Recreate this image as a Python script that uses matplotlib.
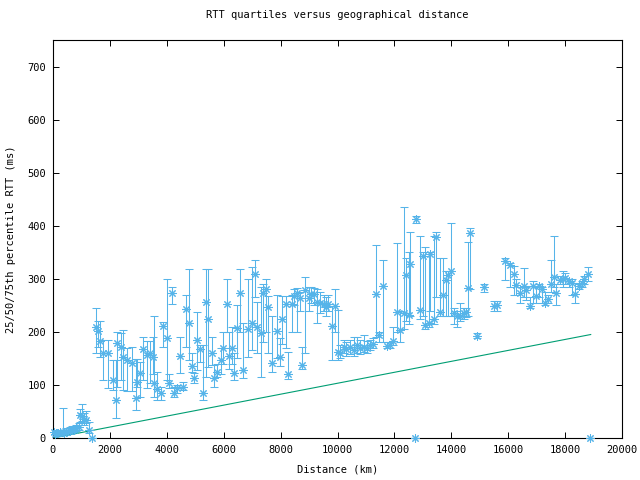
import matplotlib
matplotlib.use("Agg")
import matplotlib.pyplot as plt
import numpy as np

# distance (km), median RTT, 25th percentile, 75th percentile (ms)
dist = [30, 80, 120, 180, 250, 363, 380, 450, 520, 600, 680, 750, 820, 900, 960, 1009, 1080, 1161, 1277, 1383,
        1501, 1594, 1653, 1770, 1946, 2099, 2204, 2262, 2380, 2474, 2615, 2767, 2919, 2966, 3060, 3177, 3294, 3412,
        3505, 3552, 3669, 3786, 3880, 3997, 4091, 4173, 4267, 4372, 4467, 4583, 4678, 4795, 4878, 4960, 5054, 5171,
        5288, 5382, 5464, 5582, 5663, 5780, 5899, 5969, 6110, 6191, 6286, 6367, 6461, 6578, 6694, 6870, 6989, 7105,
        7186, 7306, 7398, 7481, 7574, 7715, 7890, 7985, 8066, 8185, 8277, 8396, 8477, 8594, 8688, 8769, 8864, 8981,
        9064, 9181, 9275, 9392, 9509, 9602, 9683, 9803, 9919, 10001, 10095, 10212, 10306, 10447, 10563, 10681, 10798,
        10914, 11034, 11150, 11245, 11361, 11442, 11597, 11737, 11829, 11949, 12089, 12181, 12322, 12406, 12498, 12557,
        12726, 12768, 12884, 13004, 13085, 13201, 13261, 13376, 13472, 13590, 13707, 13824, 13870, 13989, 14081, 14200,
        14316, 14432, 14527, 14573, 14667, 14903, 15160, 15512, 15607, 15875, 16075, 16191, 16286, 16427, 16543, 16638,
        16778, 16873, 16990, 17070, 17190, 17306, 17386, 17506, 17598, 17693, 17808, 17928, 18009, 18125, 18245, 18361,
        18477, 18597, 18677, 18793, 18890]
median = [12, 8, 10, 9, 11, 12, 10, 12, 13, 14, 15, 16, 18, 20, 44, 41, 36, 34, 16, 0,
          210, 202, 182, 160, 160, 109, 72, 179, 172, 153, 147, 142, 75, 106, 122, 167, 157, 160,
          153, 104, 92, 85, 211, 188, 104, 273, 84, 94, 155, 97, 243, 216, 135, 113, 184, 167,
          84, 257, 224, 161, 113, 125, 147, 169, 253, 155, 169, 123, 207, 273, 128, 205, 216, 309,
          210, 197, 273, 281, 247, 142, 201, 153, 224, 253, 121, 253, 267, 273, 264, 138, 278, 264,
          272, 272, 257, 255, 253, 247, 253, 211, 249, 163, 161, 172, 167, 171, 166, 175, 169,
          172, 169, 175, 177, 272, 194, 287, 174, 175, 182, 238, 204, 235, 308, 232, 328,
          0, 413, 242, 343, 213, 216, 347, 224, 379, 238, 270, 298, 308, 314, 236, 229,
          230, 235, 238, 282, 386, 192, 284, 249, 251, 334, 326, 309, 289, 274, 287, 279,
          249, 287, 268, 287, 281, 255, 262, 291, 303, 274, 298, 299, 301, 295, 292, 272,
          287, 292, 299, 309, 0]
q25 = [8, 5, 6, 6, 7, 9, 7, 8, 9, 10, 11, 12, 13, 15, 30, 32, 25, 28, 10, 0,
       160, 172, 153, 110, 94, 90, 37, 97, 110, 91, 88, 88, 53, 97, 78, 110, 94, 103,
       120, 78, 72, 72, 172, 110, 95, 253, 78, 85, 122, 91, 172, 147, 125, 103, 128, 144,
       72, 115, 134, 137, 97, 115, 120, 140, 200, 130, 140, 110, 150, 200, 113, 153, 166, 265,
       160, 115, 180, 200, 160, 124, 150, 135, 178, 170, 111, 200, 250, 200, 240, 130, 160, 240,
       255, 250, 216, 235, 240, 230, 240, 147, 200, 147, 150, 160, 155, 158, 155, 160, 158,
       162, 160, 165, 170, 190, 180, 180, 170, 170, 175, 200, 180, 205, 220, 215, 230,
       0, 405, 225, 230, 205, 210, 240, 215, 265, 230, 230, 230, 230, 230, 215, 210,
       220, 225, 228, 230, 280, 188, 275, 240, 240, 298, 285, 270, 270, 255, 265, 260,
       245, 255, 255, 265, 255, 250, 255, 275, 285, 250, 290, 285, 290, 285, 270, 255,
       280, 285, 290, 295, 0]
q75 = [15, 12, 14, 13, 16, 57, 15, 18, 19, 20, 22, 23, 25, 28, 55, 65, 48, 50, 30, 0,
       245, 220, 220, 185, 184, 147, 147, 200, 197, 204, 169, 172, 148, 148, 144, 191, 182, 182,
       191, 229, 125, 97, 219, 299, 120, 285, 97, 100, 191, 106, 270, 318, 160, 122, 238, 175,
       175, 318, 318, 191, 137, 140, 169, 200, 299, 200, 210, 160, 250, 318, 216, 300, 322, 336,
       257, 285, 290, 300, 267, 229, 270, 188, 268, 267, 163, 270, 280, 282, 275, 172, 304, 285,
       285, 282, 280, 275, 270, 265, 270, 248, 280, 241, 175, 185, 180, 185, 190, 190, 185,
       195, 182, 185, 188, 364, 200, 336, 180, 180, 210, 367, 240, 435, 340, 350, 389,
       0, 418, 380, 350, 360, 350, 350, 380, 389, 340, 340, 315, 315, 405, 245, 240,
       255, 245, 245, 370, 395, 198, 290, 258, 258, 340, 330, 325, 300, 285, 320, 285,
       265, 295, 285, 290, 285, 275, 270, 335, 380, 290, 305, 315, 310, 300, 300, 292,
       290, 295, 305, 322, 0]

# reference line (lower bound)
line_dist = [0, 18900]
line_rtt = [0, 195]

BLUE = "#56B4E9"
GREEN = "#009E73"

plt.rcParams['font.family'] = ['DejaVu Sans Mono']
plt.rcParams['font.size'] = 7.5

fig = plt.figure(figsize=(6.4, 4.8), dpi=100)
ax = fig.add_axes([53/640, 42/480, 569/640, 398/480])

d = np.array(dist, dtype=float)
m = np.array(median, dtype=float)
lo = np.array(q25, dtype=float)
hi = np.array(q75, dtype=float)
yerr = np.vstack([m - lo, hi - m])

ax.errorbar(d, m, yerr=yerr, fmt='none', ecolor=BLUE, elinewidth=0.75,
            capsize=2.6, capthick=0.75, zorder=2)
ax.plot(d, m, linestyle='none', marker=(8, 2, 0), markersize=6,
        markeredgewidth=0.75, color=BLUE, zorder=3, clip_on=False)
ax.plot(line_dist, line_rtt, color=GREEN, linewidth=0.8, zorder=2)

ax.set_xlim(0, 20000)
ax.set_ylim(0, 750)
ax.set_xticks(np.arange(0, 20001, 2000))
ax.set_yticks(np.arange(0, 701, 100))
ax.tick_params(direction='in', length=4, width=0.7, top=True, right=True,
               labelsize=7.5, pad=5, colors='black')
for s in ax.spines.values():
    s.set_linewidth(0.8)

ax.set_title("RTT quartiles versus geographical distance", fontsize=7.5, pad=16)
ax.set_xlabel("Distance (km)", fontsize=7.5, labelpad=7)
ax.set_ylabel("25/50/75th percentile RTT (ms)", fontsize=7.5, labelpad=8)

fig.savefig("out.png", dpi=100)
